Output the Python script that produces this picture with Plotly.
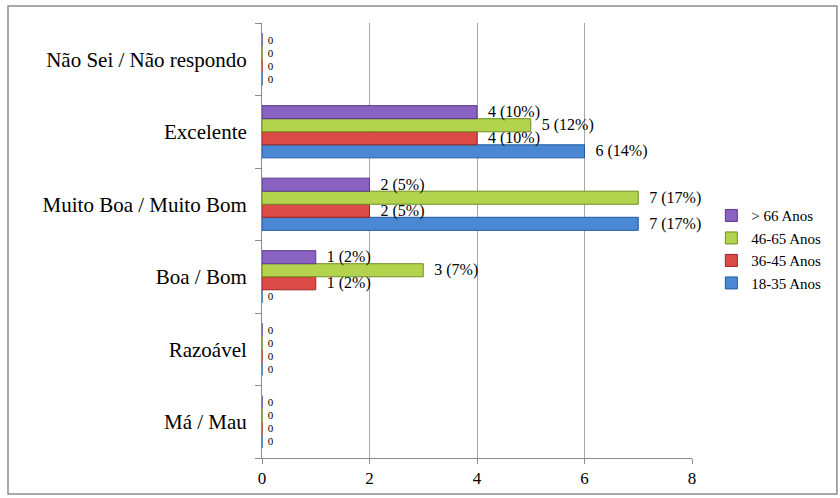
import plotly.graph_objects as go

# Rating categories, bottom to top
categories = ["Má / Mau", "Razoável", "Boa / Bom", "Muito Boa / Muito Bom",
              "Excelente", "Não Sei / Não respondo"]

# Responses per age group (counts and share of all respondents)
age_18_35 = [0, 0, 0, 7, 6, 0]
pct_18_35 = [None, None, None, 17, 14, None]
age_36_45 = [0, 0, 1, 2, 4, 0]
pct_36_45 = [None, None, 2, 5, 10, None]
age_46_65 = [0, 0, 3, 7, 5, 0]
pct_46_65 = [None, None, 7, 17, 12, None]
age_66_up = [0, 0, 1, 2, 4, 0]
pct_66_up = [None, None, 2, 5, 10, None]

series = [
    ("18-35 Anos", age_18_35, pct_18_35, "#4a88d4", "#1f5a9e"),
    ("36-45 Anos", age_36_45, pct_36_45, "#dc4b46", "#9c2522"),
    ("46-65 Anos", age_46_65, pct_46_65, "#b3d24e", "#6f8f22"),
    ("> 66 Anos", age_66_up, pct_66_up, "#8a62c2", "#583a8a"),
]

SERIF = "Liberation Serif"


def make_label(v, p):
    return " 0" if p is None else f"  {v} ({p}%)"


fig = go.Figure()
for name, vals, pcts, fill, edge in series:
    fig.add_trace(go.Bar(
        name=name,
        y=categories,
        x=vals,
        orientation="h",
        marker=dict(color=fill, line=dict(color=edge, width=1)),
        text=[make_label(v, p) for v, p in zip(vals, pcts)],
        textposition="outside",
        constraintext="none",
        textfont=dict(family=SERIF,
                      size=[11 if p is None else 16 for p in pcts],
                      color="#000000"),
        cliponaxis=False,
    ))

fig.update_layout(
    barmode="group",
    bargap=0.28,
    bargroupgap=0,
    width=840,
    height=498,
    margin=dict(l=262, r=148, t=23, b=40, autoexpand=False),
    paper_bgcolor="white",
    plot_bgcolor="white",
    font=dict(family=SERIF, color="#000000"),
    legend=dict(
        x=1.045, y=0.48, xanchor="left", yanchor="middle",
        traceorder="reversed",
        font=dict(family=SERIF, size=15, color="#000000"),
        itemwidth=30,
        bgcolor="rgba(0,0,0,0)",
    ),
    xaxis=dict(
        range=[0, 8],
        dtick=2,
        showgrid=True,
        gridcolor="#a6a6a6",
        gridwidth=1,
        zeroline=False,
        showline=True,
        linecolor="#8c8c8c",
        ticks="outside",
        ticklen=5,
        tickcolor="#8c8c8c",
        tickfont=dict(family=SERIF, size=17, color="#000000"),
    ),
    yaxis=dict(
        categoryorder="array",
        categoryarray=categories,
        showline=True,
        linecolor="#8c8c8c",
        ticks="outside",
        tickson="boundaries",
        ticklen=6,
        tickcolor="#8c8c8c",
        ticklabelstandoff=10,
        showgrid=False,
        tickfont=dict(family=SERIF, size=21, color="#000000"),
    ),
    shapes=[dict(
        type="rect", xref="paper", yref="paper",
        x0=-0.5907, x1=1.337, y0=-0.083, y1=1.039,
        line=dict(color="#8c8c8c", width=1.5),
        fillcolor="rgba(0,0,0,0)",
        layer="below",
    )],
)

fig.write_html("out.html")
